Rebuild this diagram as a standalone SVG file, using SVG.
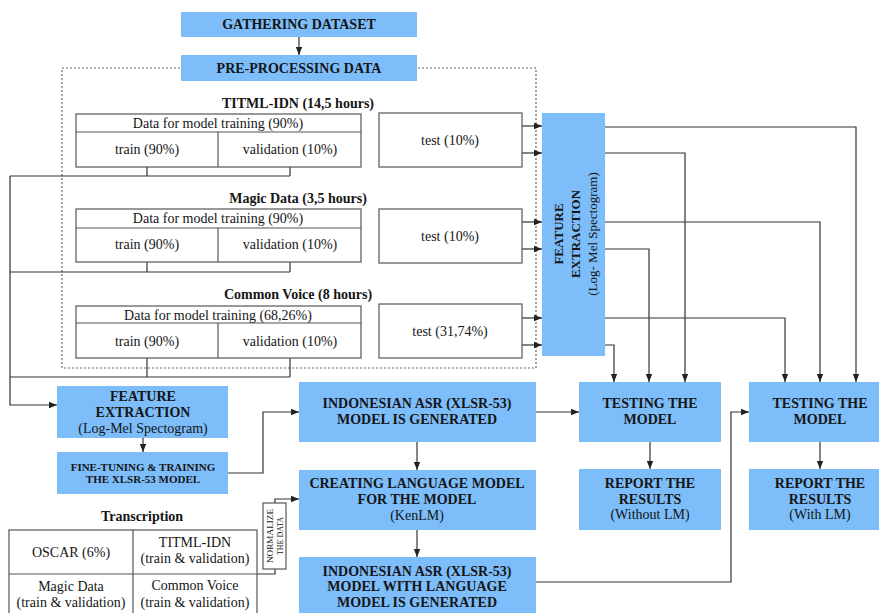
<svg xmlns="http://www.w3.org/2000/svg" width="879" height="613" viewBox="0 0 879 613">
  <style>
    .box { fill: #7cbdfa; }
    .cell { fill: #ffffff; stroke: #555555; stroke-width: 1.2; }
    .t { font-family: "Liberation Serif", "Times New Roman", Times, "DejaVu Serif", "Noto Serif", serif; text-anchor: middle; fill: #151515; }
    .b { font-weight: bold; font-size: 14px; }
    .r { font-size: 14px; }
    .v { font-size: 13px; }
    .vb { font-size: 13px; font-weight: bold; }
    .s { font-weight: bold; font-size: 11px; }
    .n { font-size: 8.5px; }
    .wire { fill: none; stroke: #333333; stroke-width: 1.2; }
    .arr { marker-end: url(#ah); }
    .dots { fill: none; stroke: #666666; stroke-width: 1.2; stroke-dasharray: 2 2; }
  </style>
  <defs>
    <marker id="ah" viewBox="0 0 10 10" refX="10" refY="5" markerUnits="userSpaceOnUse" markerWidth="9" markerHeight="8" orient="auto">
      <path d="M0,1 L10,5 L0,9 z" fill="#222222"/>
    </marker>
  </defs>

  <rect width="879" height="613" fill="#ffffff"/>

  <!-- dotted pre-processing frame -->
  <rect class="dots" x="62" y="68" width="474" height="300"/>

  <!-- connectors -->
  <g id="connectors">
    <path class="wire arr" d="M299,37 V55"/>
    <!-- train/validation splits merge into the left feeder line -->
    <path class="wire" d="M147,167 V176 M290,167 V176 M10,176 H290"/>
    <path class="wire" d="M147,262 V272 M290,262 V272 M10,272 H290"/>
    <path class="wire" d="M147,358 V377 M290,358 V377 M10,377 H290"/>
    <path class="wire arr" d="M10,176 V405 H57"/>
    <!-- test sets into feature extraction -->
    <path class="wire arr" d="M522,126 H542"/>
    <path class="wire arr" d="M522,153 H542"/>
    <path class="wire arr" d="M522,222 H542"/>
    <path class="wire arr" d="M522,249 H542"/>
    <path class="wire arr" d="M522,318 H542"/>
    <path class="wire arr" d="M522,345 H542"/>
    <!-- features to the two testing stages -->
    <path class="wire arr" d="M605,127 H856 V382"/>
    <path class="wire arr" d="M605,153 H685 V382"/>
    <path class="wire arr" d="M605,222 H820 V382"/>
    <path class="wire arr" d="M605,249 H649 V382"/>
    <path class="wire arr" d="M605,318 H785 V382"/>
    <path class="wire arr" d="M605,345 H614 V382"/>
    <!-- training pipeline -->
    <path class="wire arr" d="M143,438 V452"/>
    <path class="wire arr" d="M228,473 H263 V412 H299"/>
    <path class="wire arr" d="M417,442 V470"/>
    <path class="wire arr" d="M417,530 V557"/>
    <path class="wire arr" d="M536,412 H579"/>
    <path class="wire arr" d="M650,442 V469"/>
    <path class="wire arr" d="M820,442 V469"/>
    <path class="wire arr" d="M536,582 H731 V412 H749"/>
    <!-- transcription corpus through normalization -->
    <path class="wire" d="M257,574 H275 V569"/>
    <path class="wire arr" d="M275,503 V499 H299"/>
  </g>

  <g id="gathering">
    <rect class="box" x="181" y="12" width="236" height="25"/>
    <text class="t b" x="299" y="29">GATHERING DATASET</text>
  </g>

  <g id="preprocessing">
    <rect class="box" x="181" y="55" width="236" height="26"/>
    <text class="t b" x="299" y="73">PRE-PROCESSING DATA</text>
  </g>

  <g id="titml">
    <text class="t b" x="298" y="108">TITML-IDN (14,5 hours)</text>
    <rect class="cell" x="76" y="114" width="285" height="53"/>
    <path class="cell" d="M76,132 H361 M218,132 V167"/>
    <text class="t r" x="218" y="128">Data for model training (90%)</text>
    <text class="t r" x="147" y="154">train (90%)</text>
    <text class="t r" x="290" y="154">validation (10%)</text>
  </g>

  <g id="titml-test">
    <rect class="cell" x="379" y="113" width="143" height="54"/>
    <text class="t r" x="450" y="145">test (10%)</text>
  </g>

  <g id="magic">
    <text class="t b" x="298" y="203">Magic Data (3,5 hours)</text>
    <rect class="cell" x="76" y="209" width="285" height="53"/>
    <path class="cell" d="M76,228 H361 M218,228 V262"/>
    <text class="t r" x="218" y="223">Data for model training (90%)</text>
    <text class="t r" x="147" y="249">train (90%)</text>
    <text class="t r" x="290" y="249">validation (10%)</text>
  </g>

  <g id="magic-test">
    <rect class="cell" x="379" y="209" width="143" height="54"/>
    <text class="t r" x="450" y="241">test (10%)</text>
  </g>

  <g id="commonvoice">
    <text class="t b" x="298" y="299">Common Voice (8 hours)</text>
    <rect class="cell" x="76" y="306" width="285" height="52"/>
    <path class="cell" d="M76,323 H361 M218,323 V358"/>
    <text class="t r" x="218" y="320">Data for model training (68,26%)</text>
    <text class="t r" x="147" y="346">train (90%)</text>
    <text class="t r" x="290" y="346">validation (10%)</text>
  </g>

  <g id="commonvoice-test">
    <rect class="cell" x="379" y="304" width="143" height="54"/>
    <text class="t r" x="450" y="336">test (31,74%)</text>
  </g>

  <g id="feature-test">
    <rect class="box" x="542" y="113" width="63" height="243"/>
    <text class="t vb" transform="translate(563,234) rotate(-90)">FEATURE</text>
    <text class="t vb" transform="translate(580,234) rotate(-90)">EXTRACTION</text>
    <text class="t v" transform="translate(597,234) rotate(-90)">(Log- Mel Spectogram)</text>
  </g>

  <g id="feature-train">
    <rect class="box" x="57" y="386" width="171" height="52"/>
    <text class="t b" x="143" y="401">FEATURE</text>
    <text class="t b" x="143" y="417">EXTRACTION</text>
    <text class="t r" x="143" y="433">(Log-Mel Spectogram)</text>
  </g>

  <g id="finetune">
    <rect class="box" x="57" y="452" width="171" height="42"/>
    <text class="t s" x="143" y="471">FINE-TUNING &amp; TRAINING</text>
    <text class="t s" x="143" y="483">THE XLSR-53 MODEL</text>
  </g>

  <g id="transcription">
    <text class="t b" x="142" y="521">Transcription</text>
    <rect class="cell" x="9" y="530" width="248" height="100"/>
    <path class="cell" d="M9,574 H257 M133,530 V613"/>
    <text class="t r" x="71" y="557">OSCAR (6%)</text>
    <text class="t r" x="195" y="547">TITML-IDN</text>
    <text class="t r" x="195" y="563">(train &amp; validation)</text>
    <text class="t r" x="71" y="591">Magic Data</text>
    <text class="t r" x="71" y="607">(train &amp; validation)</text>
    <text class="t r" x="195" y="590">Common Voice</text>
    <text class="t r" x="195" y="607">(train &amp; validation)</text>
  </g>

  <g id="normalize">
    <rect class="cell" x="263" y="503" width="23" height="66"/>
    <text class="t n" transform="translate(272.5,536) rotate(-90)" textLength="54" lengthAdjust="spacingAndGlyphs">NORMALIZE</text>
    <text class="t n" transform="translate(282.5,536) rotate(-90)" textLength="38" lengthAdjust="spacingAndGlyphs">THE DATA</text>
  </g>

  <g id="asr-model">
    <rect class="box" x="299" y="382" width="237" height="60"/>
    <text class="t b" x="417" y="408">INDONESIAN ASR (XLSR-53)</text>
    <text class="t b" x="417" y="424">MODEL IS GENERATED</text>
  </g>

  <g id="language-model">
    <rect class="box" x="299" y="470" width="237" height="60"/>
    <text class="t b" x="417" y="488">CREATING LANGUAGE MODEL</text>
    <text class="t b" x="417" y="504">FOR THE MODEL</text>
    <text class="t r" x="417" y="520">(KenLM)</text>
  </g>

  <g id="asr-model-lm">
    <rect class="box" x="299" y="557" width="237" height="70"/>
    <text class="t b" x="417" y="576">INDONESIAN ASR (XLSR-53)</text>
    <text class="t b" x="417" y="591">MODEL WITH LANGUAGE</text>
    <text class="t b" x="417" y="607">MODEL IS GENERATED</text>
  </g>

  <g id="testing-1">
    <rect class="box" x="579" y="382" width="142" height="60"/>
    <text class="t b" x="650" y="408">TESTING THE</text>
    <text class="t b" x="650" y="424">MODEL</text>
  </g>

  <g id="report-1">
    <rect class="box" x="579" y="469" width="142" height="61"/>
    <text class="t b" x="650" y="488">REPORT THE</text>
    <text class="t b" x="650" y="504">RESULTS</text>
    <text class="t r" x="650" y="519">(Without LM)</text>
  </g>

  <g id="testing-2">
    <rect class="box" x="749" y="382" width="142" height="60"/>
    <text class="t b" x="820" y="408">TESTING THE</text>
    <text class="t b" x="820" y="424">MODEL</text>
  </g>

  <g id="report-2">
    <rect class="box" x="749" y="469" width="142" height="61"/>
    <text class="t b" x="820" y="488">REPORT THE</text>
    <text class="t b" x="820" y="504">RESULTS</text>
    <text class="t r" x="820" y="519">(With LM)</text>
  </g>
</svg>
